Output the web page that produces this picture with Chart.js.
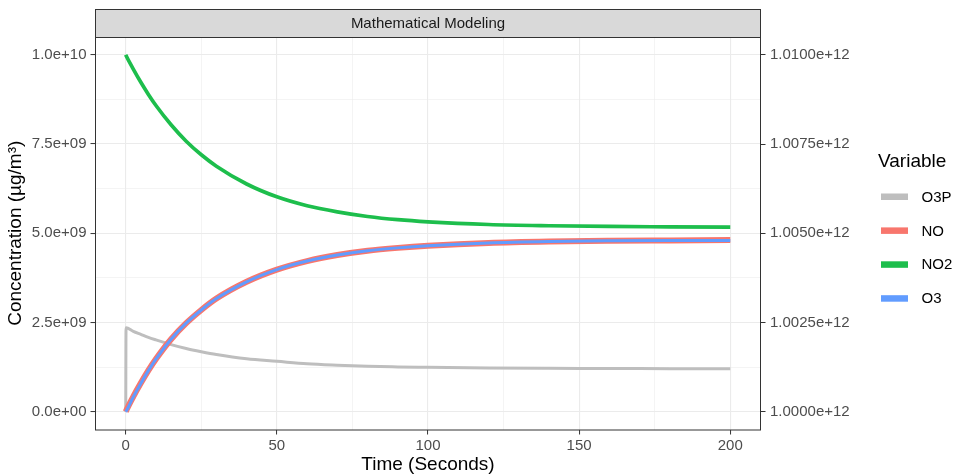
<!DOCTYPE html>
<html>
<head>
<meta charset="utf-8">
<script src="https://cdn.jsdelivr.net/npm/chart.js@4.4.0/dist/chart.umd.min.js"></script>
<style>
  html, body { margin: 0; padding: 0; background: #fff; }
  canvas { display: block; }
</style>
</head>
<body>
<canvas id="chart" width="954" height="474"></canvas>
<script>
// values (concentrations in ug/m3)
const time = [0, 0.1, 2.5, 5, 7.5, 10, 15, 20, 25, 30, 40, 50, 60, 70, 80, 90, 100, 120, 140, 160, 180, 200];
const o3p = [0, 2.35e9, 2.25e9, 2.165e9, 2.08e9, 2.01e9, 1.88e9, 1.77e9, 1.68e9, 1.60e9, 1.48e9, 1.41e9,
             1.34e9, 1.30e9, 1.27e9, 1.255e9, 1.245e9, 1.225e9, 1.215e9, 1.21e9, 1.205e9, 1.20e9];
const no = [0, 0.02e9, 0.42e9, 0.80e9, 1.155e9, 1.475e9, 2.03e9, 2.48e9, 2.85e9, 3.17e9, 3.64e9, 3.98e9,
            4.22e9, 4.39e9, 4.51e9, 4.59e9, 4.65e9, 4.73e9, 4.77e9, 4.79e9, 4.80e9, 4.81e9];
const no2 = [10.0e9, 9.98e9, 9.60e9, 9.23e9, 8.89e9, 8.58e9, 8.04e9, 7.58e9, 7.20e9, 6.88e9, 6.38e9, 6.02e9,
             5.77e9, 5.60e9, 5.47e9, 5.38e9, 5.32e9, 5.245e9, 5.21e9, 5.19e9, 5.18e9, 5.17e9];
const o3 = [0, 0.01e9, 0.41e9, 0.79e9, 1.15e9, 1.47e9, 2.03e9, 2.48e9, 2.85e9, 3.17e9, 3.64e9, 3.98e9,
            4.22e9, 4.39e9, 4.51e9, 4.59e9, 4.65e9, 4.73e9, 4.77e9, 4.79e9, 4.80e9, 4.80e9];

const seriesNames = ['O3P', 'NO', 'NO2', 'O3'];
const xTicks = [0, 50, 100, 150, 200];
const xMinor = [25, 75, 125, 175];
const yTicks = [0, 2.5e9, 5e9, 7.5e9, 1e10];
const yMinor = [1.25e9, 3.75e9, 6.25e9, 8.75e9];
const y2Ticks = [1e12, 1.0025e12, 1.005e12, 1.0075e12, 1.01e12];

const FONT = "'Liberation Sans', Arial, Helvetica, sans-serif";
const colors = { O3P: '#BEBEBE', NO: '#F8766D', NO2: '#1DBE4C', O3: '#619CFF' };

function pts(ys) {
    return time.map((t, i) => ({ x: t, y: ys[i] }));
}

// ggplot style scientific labels, e.g. 2.5e+09
function sciLabel(v, digits) {
    if (v === 0) return (0).toFixed(digits) + 'e+00';
    const e = Math.floor(Math.log10(Math.abs(v)) + 1e-9);
    const m = v / Math.pow(10, e);
    return m.toFixed(digits) + 'e' + (e < 0 ? '-' : '+') + String(Math.abs(e)).padStart(2, '0');
}

function gridFor(majors) {
    return {
        color: '#EBEBEB',
        lineWidth: c => majors.includes(c.tick.value) ? 1.1 : 0.55,
        tickColor: c => majors.includes(c.tick.value) ? '#333333' : 'rgba(0,0,0,0)',
        tickWidth: 1,
        tickLength: 5,
        drawTicks: true
    };
}

// strip on top, panel border and the legend on the right
const decorations = {
    id: 'decorations',
    afterDraw(chart) {
        const ctx = chart.ctx;
        const a = chart.chartArea;
        ctx.save();
        ctx.strokeStyle = '#333333';
        ctx.lineWidth = 1;
        ctx.strokeRect(a.left, a.top + 0.5, a.right - a.left, a.bottom - a.top);

        // facet strip
        ctx.fillStyle = '#D9D9D9';
        ctx.fillRect(a.left, 9.5, a.right - a.left, a.top - 9.5);
        ctx.strokeRect(a.left, 9.5, a.right - a.left, a.top - 9);
        ctx.fillStyle = '#1A1A1A';
        ctx.font = '15px ' + FONT;
        ctx.textAlign = 'center';
        ctx.textBaseline = 'middle';
        ctx.fillText('Mathematical Modeling', (a.left + a.right) / 2, 23.5);

        // legend
        ctx.textAlign = 'left';
        ctx.fillStyle = '#000000';
        ctx.font = '19px ' + FONT;
        ctx.fillText('Variable', 878, 162);
        ctx.font = '15px ' + FONT;
        seriesNames.forEach((name, i) => {
            const cy = 196.5 + 33.9 * i;
            ctx.fillStyle = colors[name];
            ctx.fillRect(881, cy - 3, 27, 6.5);
            ctx.fillStyle = '#000000';
            ctx.fillText(name, 921.5, cy + 1);
        });
        ctx.restore();
    }
};

const datasets = [
    { label: 'O3P', data: pts(o3p), borderColor: colors.O3P, borderWidth: 3, order: 3 },
    { label: 'NO', data: pts(no), borderColor: colors.NO, borderWidth: 6, order: 2 },
    { label: 'NO2', data: pts(no2), borderColor: colors.NO2, borderWidth: 3.7, order: 1 },
    { label: 'O3', data: pts(o3), borderColor: colors.O3, borderWidth: 3, order: 0 }
].map(d => Object.assign(d, {
    pointRadius: 0,
    fill: false,
    cubicInterpolationMode: 'monotone',
    borderCapStyle: 'butt',
    borderJoinStyle: 'round'
}));

new Chart(document.getElementById('chart').getContext('2d'), {
    type: 'line',
    data: { datasets: datasets },
    options: {
        responsive: false,
        animation: false,
        devicePixelRatio: 1,
        layout: { padding: { top: 37, left: 0, right: 0, bottom: 0 } },
        plugins: {
            legend: { display: false },
            tooltip: { enabled: false }
        },
        scales: {
            x: {
                type: 'linear',
                min: -10,
                max: 210,
                afterBuildTicks: s => { s.ticks = xTicks.concat(xMinor).sort((p, q) => p - q).map(v => ({ value: v })); },
                afterFit: s => { s.height = 44.5; },
                grid: gridFor(xTicks),
                border: { display: false },
                ticks: {
                    autoSkip: false,
                    maxRotation: 0,
                    padding: 2,
                    color: '#4D4D4D',
                    font: { family: FONT, size: 15, lineHeight: 1.2 },
                    callback: v => xTicks.includes(v) ? String(v) : ''
                },
                title: {
                    display: true,
                    text: 'Time (Seconds)',
                    color: '#000000',
                    font: { family: FONT, size: 19, lineHeight: 1 },
                    padding: { top: 0, bottom: 0 }
                }
            },
            y: {
                type: 'linear',
                position: 'left',
                min: -0.5e9,
                max: 10.5e9,
                afterBuildTicks: s => { s.ticks = yTicks.concat(yMinor).sort((p, q) => p - q).map(v => ({ value: v })); },
                afterFit: s => { s.width = 95.5; },
                grid: gridFor(yTicks),
                border: { display: false },
                ticks: {
                    autoSkip: false,
                    padding: 4,
                    color: '#4D4D4D',
                    font: { family: FONT, size: 15 },
                    callback: v => yTicks.includes(v) ? sciLabel(v, 1) : ''
                },
                title: {
                    display: true,
                    text: 'Concentration (µg/m³)',
                    color: '#000000',
                    font: { family: FONT, size: 19, lineHeight: 1 },
                    padding: { top: 6, bottom: 0 }
                }
            },
            y2: {
                type: 'linear',
                position: 'right',
                min: 1e12 - 0.5e9,
                max: 1e12 + 10.5e9,
                afterBuildTicks: s => { s.ticks = y2Ticks.map(v => ({ value: v })); },
                afterFit: s => { s.width = 193.5; },
                grid: { drawOnChartArea: false, drawTicks: true, tickLength: 5, tickColor: '#333333', tickWidth: 1 },
                border: { display: false },
                ticks: {
                    autoSkip: false,
                    padding: 4.5,
                    color: '#4D4D4D',
                    font: { family: FONT, size: 15 },
                    callback: v => sciLabel(v, 4)
                }
            }
        }
    },
    plugins: [decorations]
});
</script>
</body>
</html>
